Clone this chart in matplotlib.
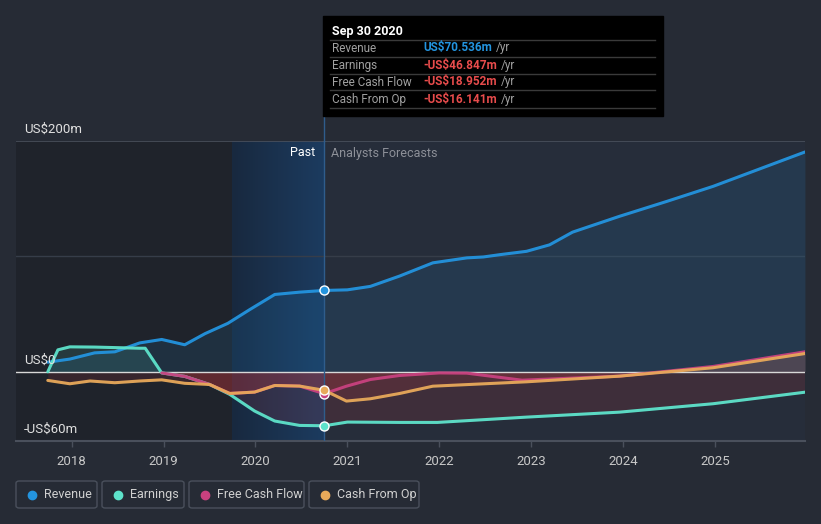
import matplotlib
matplotlib.use("Agg")
import matplotlib.pyplot as plt
import numpy as np
from matplotlib.patches import FancyBboxPatch, Rectangle
from matplotlib.lines import Line2D

plt.rcParams['font.family'] = ['Roboto', 'DejaVu Sans']

# values in US$ millions, x in decimal years
rev_x = [2017.74, 2017.98, 2018.25, 2018.47, 2018.74, 2018.98, 2019.23, 2019.45, 2019.70,
         2019.94, 2020.21, 2020.48, 2020.75, 2021.0, 2021.25, 2021.57, 2021.93, 2022.30,
         2022.48, 2022.66, 2022.95, 2023.2, 2023.45, 2023.96, 2024.47, 2024.98, 2025.98]
rev_y = [8.3, 11, 16.4, 17.3, 25, 28, 23.4, 33, 42, 54, 67, 69, 70.5, 71, 74, 83, 94.4, 98.7,
         99.5, 101.5, 104.4, 110, 121, 134.7, 147.5, 160.7, 190.5]

earn_x = [2017.74, 2017.85, 2017.98, 2018.25, 2018.74, 2018.80, 2018.98, 2019.23, 2019.50,
          2019.72, 2019.99, 2020.21, 2020.48, 2020.75, 2021.0, 2021.57, 2021.98, 2022.95,
          2023.96, 2024.98, 2025.98]
earn_y = [0, 19, 21.6, 21.4, 20.4, 20.4, -1, -4, -11, -19.6, -34, -42.7, -46.5, -46.8, -43.6,
          -43.9, -43.9, -39.3, -35, -27.7, -17.7]

fcf_x = [2018.98, 2019.23, 2019.50, 2019.72, 2019.99, 2020.21, 2020.48, 2020.75, 2020.99,
         2021.25, 2021.57, 2022.0, 2022.30, 2022.9, 2023.96, 2024.98, 2025.98]
fcf_y = [-1, -4, -11, -18.8, -17.6, -11.9, -12.4, -19.0, -12.5, -6.7, -3.2, -1, -1.2, -7.3,
         -3.8, 4.6, 17.3]

cfo_x = [2017.74, 2017.98, 2018.20, 2018.47, 2018.74, 2018.98, 2019.23, 2019.50, 2019.72,
         2019.99, 2020.21, 2020.48, 2020.75, 2020.99, 2021.25, 2021.57, 2021.93, 2022.95,
         2023.96, 2024.98, 2025.98]
cfo_y = [-7.5, -10.4, -8, -9.5, -8, -7, -10, -11, -18.8, -17.6, -11.9, -12.4, -16.1, -25.4,
         -23.4, -18.8, -12.5, -8.7, -3.8, 3.5, 15.8]

years = [2018, 2019, 2020, 2021, 2022, 2023, 2024, 2025]
now = 2020.747

tip_rows = [("Revenue", "US$70.536m", "#2394df"),
            ("Earnings", "-US$46.847m", "#e84c4c"),
            ("Free Cash Flow", "-US$18.952m", "#e84c4c"),
            ("Cash From Op", "-US$16.141m", "#e84c4c")]

BG = "#262b35"
c_rev, c_earn, c_fcf, c_cfo = "#2394df", "#5ee3cb", "#c8417f", "#e8a95a"

W, H = 821, 524
fig = plt.figure(figsize=(W / 100, H / 100), dpi=100, facecolor=BG)


def fx(px):
    return px / W


def fy(py):
    return 1 - py / H


ax = fig.add_axes([fx(16), fy(441), fx(805) - fx(16), fy(141) - fy(441)])
ax.set_facecolor("#262d3a")
x0, x1 = 2017.394, 2025.98

# past region shading
ax.axvspan(x0, now - 1, color="#1f232b", zorder=0)
grad = np.linspace(0, 1, 100).reshape(1, -1)
ax.imshow(grad, extent=[now - 1, now, -60, 200], aspect="auto", zorder=0.5,
          cmap=matplotlib.colors.LinearSegmentedColormap.from_list("b", ["#18293f", "#1c3b5f"]))
ax.set_xlim(x0, x1)
ax.set_ylim(-60, 200)

ax.axhline(100, color="#363d49", lw=1, zorder=1)
ax.axhline(200, color="#4a505c", lw=1.2, zorder=1)
ax.axhline(0, color="#d8d8d8", lw=1, zorder=3)
ax.axvline(now, color="#2f5d8c", lw=1, zorder=3)
fig.add_artist(Line2D([fx(323.5), fx(323.5)], [fy(141), fy(116)], color="#2f5d8c", lw=1))

series = [(rev_x, rev_y, c_rev), (earn_x, earn_y, c_earn),
          (fcf_x, fcf_y, c_fcf), (cfo_x, cfo_y, c_cfo)]

for xs, ys, c in series:
    xs = np.array(xs)
    ys = np.array(ys)
    ax.fill_between(xs, ys, 0, where=ys >= 0, interpolate=True, color=c, alpha=0.12, lw=0, zorder=2)
    ax.fill_between(xs, ys, 0, where=ys <= 0, interpolate=True, color="#e0393e", alpha=0.13, lw=0, zorder=2)

for xs, ys, c in series:
    ax.plot(xs, ys, color=c, lw=2.2, zorder=4, solid_capstyle="round",
            solid_joinstyle="round", alpha=0.95)

for xs, ys, c in series:
    ax.plot([now], [np.interp(now, xs, ys)], "o", ms=6.5, mfc=c, mec="white", mew=1, zorder=5)

for s in ax.spines.values():
    s.set_visible(False)
ax.axhline(-60, color="#4a505c", lw=1.5, zorder=1, clip_on=False)
ax.set_yticks([])
ax.set_xticks(years)
ax.set_xticklabels([str(y) for y in years])
ax.tick_params(axis="x", colors="#4a505c", length=4, width=1, labelcolor="#c8c8c8",
               labelsize=9.5, pad=6)

# y labels
fig.text(fx(24), fy(129), "US$200m", color="#e0e0e0", fontsize=9.5, va="center")
fig.text(fx(24), fy(360), "US$0", color="#e0e0e0", fontsize=9.5, va="center")
fig.text(fx(24), fy(429), "-US$60m", color="#e0e0e0", fontsize=9.5, va="center")
fig.text(fx(315), fy(153), "Past", color="white", fontsize=9, ha="right", va="center")
fig.text(fx(331), fy(153), "Analysts Forecasts", color="#8d9098", fontsize=9, va="center")

# tooltip
fig.add_artist(Rectangle((fx(323), fy(116)), fx(663) - fx(323), fy(16) - fy(116),
                         color="black", zorder=10))
fig.text(fx(332), fy(31), "Sep 30 2020", color="white", fontsize=9, weight="bold",
         va="center", zorder=11)
for i, (lab, val, c) in enumerate(tip_rows):
    y = 48 + 17 * i
    fig.add_artist(Line2D([fx(330), fx(655)], [fy(y - 8.5), fy(y - 8.5)], color="#3a3a3a",
                          lw=1, zorder=11))
    fig.text(fx(332), fy(y), lab, color="#a0a0a0", fontsize=8.5, va="center", zorder=11)
    t = fig.text(fx(423), fy(y), val, color=c, fontsize=8.5, weight="bold", va="center", zorder=11)
    fig.canvas.draw()
    bb = t.get_window_extent()
    fig.text(bb.x1 / W + fx(4), fy(y), "/yr", color="#a0a0a0", fontsize=8.5, va="center", zorder=11)
fig.add_artist(Line2D([fx(330), fx(655)], [fy(108.5), fy(108.5)], color="#3a3a3a", lw=1, zorder=11))

# legend boxes
legend = [("Revenue", c_rev, 16, 97), ("Earnings", c_earn, 102, 184),
          ("Free Cash Flow", c_fcf, 189, 304), ("Cash From Op", c_cfo, 309, 419)]
for lab, c, a, b in legend:
    fig.add_artist(FancyBboxPatch((fx(a), fy(508)), fx(b) - fx(a), fy(481) - fy(508),
                                  boxstyle="round,pad=0,rounding_size=0.004",
                                  fc="none", ec="#4a505c", lw=1))
    fig.add_artist(Line2D([fx(a + 16)], [fy(494.5)], marker="o", ms=6, color=c, mec=c))
    fig.text(fx(a + 28), fy(494.5), lab, color="#d0d0d0", fontsize=9, va="center")

fig.savefig("out.png", dpi=100, facecolor=BG)
